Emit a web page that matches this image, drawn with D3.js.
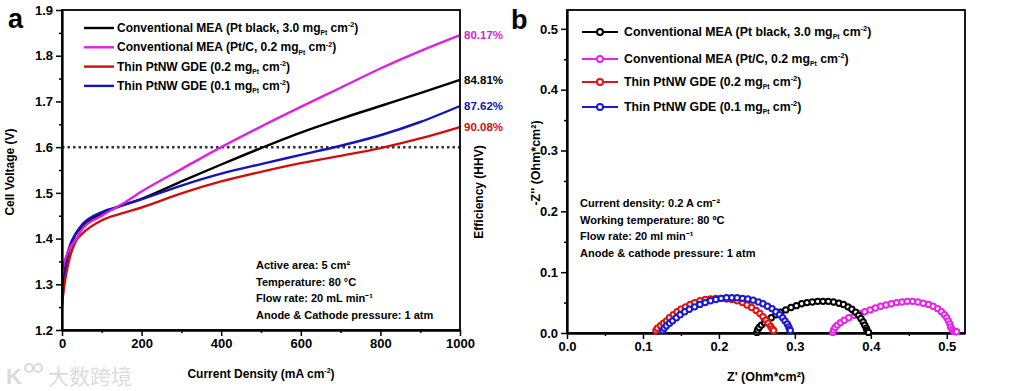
<!DOCTYPE html>
<html><head><meta charset="utf-8">
<script src="https://cdn.jsdelivr.net/npm/d3@7/dist/d3.min.js"></script>
<style>body{margin:0;background:#fff}svg{display:block;font-family:"Liberation Sans",Arial,sans-serif;font-weight:bold}</style>
</head><body><svg id="c" width="1012" height="391"></svg>
<script>
// ---------- Panel a data ----------
const currentDensity = [0, 10, 20, 35, 50, 100, 150, 200, 300, 400, 500, 600, 700, 800, 900, 1000];
const vPtBlack = [1.27, 1.34, 1.38, 1.41, 1.425, 1.455, 1.472, 1.487, 1.525, 1.562, 1.598, 1.632, 1.662, 1.69, 1.718, 1.747];
const vPtC     = [1.33, 1.36, 1.38, 1.398, 1.42, 1.45, 1.475, 1.503, 1.552, 1.600, 1.645, 1.688, 1.73, 1.772, 1.81, 1.845];
const vPtNW02  = [1.26, 1.32, 1.36, 1.395, 1.41, 1.44, 1.455, 1.468, 1.499, 1.525, 1.546, 1.565, 1.581, 1.598, 1.619, 1.644];
const vPtNW01  = [1.25, 1.35, 1.385, 1.412, 1.43, 1.458, 1.472, 1.486, 1.516, 1.542, 1.563, 1.583, 1.603, 1.626, 1.655, 1.69];
const efficiencyLabels = ["84.81%", "80.17%", "90.08%", "87.62%"];
const yTicksA = [1.2, 1.3, 1.4, 1.5, 1.6, 1.7, 1.8, 1.9];
const xTicksA = [0, 200, 400, 600, 800, 1000];
const thresholdV = 1.6;

// ---------- Panel b data (Z', -Z'') ----------
const eisPtBlack = [[0.250,0.001],[0.251,0.005],[0.253,0.009],[0.256,0.013],[0.260,0.017],[0.264,0.021],[0.269,0.025],[0.275,0.030],[0.281,0.034],[0.288,0.038],[0.295,0.042],[0.302,0.045],[0.309,0.048],[0.316,0.050],[0.323,0.051],[0.330,0.052],[0.337,0.052],[0.344,0.052],[0.351,0.051],[0.358,0.049],[0.364,0.047],[0.370,0.043],[0.375,0.039],[0.380,0.034],[0.384,0.029],[0.387,0.024],[0.390,0.018],[0.392,0.013],[0.394,0.008],[0.395,0.004],[0.396,0.002],[0.397,0.001]];
const eisPtC = [[0.350,0.001],[0.351,0.005],[0.353,0.009],[0.356,0.013],[0.360,0.017],[0.365,0.021],[0.371,0.025],[0.378,0.029],[0.385,0.032],[0.392,0.035],[0.399,0.038],[0.406,0.041],[0.413,0.044],[0.420,0.046],[0.427,0.048],[0.434,0.050],[0.441,0.051],[0.448,0.052],[0.455,0.052],[0.462,0.051],[0.469,0.049],[0.476,0.047],[0.482,0.044],[0.488,0.040],[0.493,0.035],[0.497,0.030],[0.500,0.025],[0.502,0.020],[0.504,0.015],[0.505,0.010],[0.507,0.006],[0.509,0.003],[0.511,0.002],[0.513,0.002]];
const eisPtNW02 = [[0.117,0.004],[0.119,0.008],[0.123,0.012],[0.127,0.016],[0.131,0.020],[0.135,0.025],[0.140,0.030],[0.145,0.035],[0.150,0.039],[0.156,0.043],[0.162,0.047],[0.168,0.050],[0.175,0.053],[0.182,0.055],[0.189,0.056],[0.196,0.057],[0.203,0.057],[0.210,0.056],[0.217,0.055],[0.224,0.053],[0.231,0.050],[0.237,0.046],[0.243,0.042],[0.249,0.037],[0.254,0.032],[0.258,0.027],[0.262,0.021],[0.265,0.016],[0.268,0.011],[0.270,0.007],[0.272,0.004]];
const eisPtNW01 = [[0.126,0.004],[0.128,0.008],[0.131,0.012],[0.135,0.016],[0.139,0.020],[0.144,0.025],[0.149,0.030],[0.155,0.035],[0.161,0.039],[0.168,0.043],[0.175,0.047],[0.182,0.050],[0.189,0.053],[0.196,0.055],[0.203,0.057],[0.210,0.058],[0.217,0.058],[0.224,0.058],[0.231,0.057],[0.238,0.056],[0.245,0.054],[0.252,0.051],[0.258,0.048],[0.264,0.044],[0.270,0.040],[0.275,0.035],[0.280,0.030],[0.284,0.025],[0.287,0.020],[0.290,0.015],[0.292,0.010],[0.293,0.006],[0.294,0.004]];
const yTicksB = [0.0, 0.1, 0.2, 0.3, 0.4, 0.5];
const xTicksB = [0.0, 0.1, 0.2, 0.3, 0.4, 0.5];

const legendA = [
  {pre:"Conventional MEA (Pt black, 3.0 mg", sub:"Pt", mid:" cm", sup:"-2", post:")"},
  {pre:"Conventional MEA (Pt/C, 0.2 mg", sub:"Pt", mid:" cm", sup:"-2", post:")"},
  {pre:"Thin PtNW GDE (0.2 mg", sub:"Pt", mid:" cm", sup:"-2", post:")"},
  {pre:"Thin PtNW GDE (0.1 mg", sub:"Pt", mid:" cm", sup:"-2", post:")"}
];
const colorsA = ["#000000", "#e020e0", "#cc1010", "#1414bb"];
const labelColors = ["#000000", "#d61ed6", "#cc1010", "#1414aa"];
const colorsB = ["#000000", "#e626e6", "#e01414", "#1a1ad0"];

const svg = d3.select("#c");
svg.append("rect").attr("width",1012).attr("height",391).attr("fill","#fff");

function richText(g, x, y, item, size, fill){
  const t = g.append("text").attr("x",x).attr("y",y).attr("font-size",size).attr("fill",fill||"#000");
  t.append("tspan").text(item.pre);
  t.append("tspan").attr("font-size",size*0.55).attr("dy",size*0.28).text(item.sub);
  t.append("tspan").attr("dy",-size*0.28).text(item.mid);
  t.append("tspan").attr("font-size",size*0.6).attr("dy",-size*0.38).text(item.sup);
  t.append("tspan").attr("dy",size*0.38).text(item.post);
  return t;
}

// ================= PANEL A =================
const xa = d3.scaleLinear().domain([0,1000]).range([62,460]);
const ya = d3.scaleLinear().domain([1.2,1.9]).range([330,10]);
const ga = svg.append("g");

ga.append("line").attr("x1",xa(0)).attr("x2",xa(1000)).attr("y1",ya(thresholdV)).attr("y2",ya(thresholdV))
  .attr("stroke","#333").attr("stroke-width",2.5).attr("stroke-dasharray","2.5,3");

const seriesA = [vPtBlack, vPtC, vPtNW02, vPtNW01];
const lineA = d3.line().x((d,i)=>xa(currentDensity[i])).y(d=>ya(d)).curve(d3.curveMonotoneX);
const drawOrder = [0,3,2,1];
drawOrder.forEach(k=>{
  ga.append("path").datum(seriesA[k]).attr("d",lineA).attr("fill","none")
    .attr("stroke",colorsA[k]).attr("stroke-width",2.4);
});

ga.append("g").attr("transform",`translate(${xa(0)},0)`)
  .call(d3.axisLeft(ya).tickValues(yTicksA).tickFormat(d3.format(".1f")).tickSize(6).tickSizeOuter(0).tickPadding(3));
ga.append("g").attr("transform",`translate(${xa(0)},0)`)
  .call(d3.axisLeft(ya).tickValues([1.25,1.35,1.45,1.55,1.65,1.75,1.85]).tickFormat("").tickSize(3).tickSizeOuter(0));
ga.append("g").attr("transform",`translate(0,${ya(1.2)})`)
  .call(d3.axisBottom(xa).tickValues(xTicksA).tickFormat(d3.format("d")).tickSize(6).tickSizeOuter(0).tickPadding(3));
ga.append("g").attr("transform",`translate(0,${ya(1.2)})`)
  .call(d3.axisBottom(xa).tickValues([100,300,500,700,900]).tickFormat("").tickSize(3).tickSizeOuter(0));
ga.append("rect").attr("x",xa(0)).attr("y",ya(1.9)).attr("width",xa(1000)-xa(0)).attr("height",ya(1.2)-ya(1.9))
  .attr("fill","none").attr("stroke","#000").attr("stroke-width",1.8);

legendA.forEach((it,i)=>{
  const y = 28 + i*19.3;
  ga.append("line").attr("x1",84).attr("x2",114).attr("y1",y).attr("y2",y).attr("stroke",colorsA[i]).attr("stroke-width",2.4);
  richText(ga, 117, y+4, it, 12);
});

const endVals = seriesA.map(s=>s[s.length-1]);
endVals.forEach((v,i)=>{
  ga.append("text").attr("x",464).attr("y",ya(v)+4).attr("font-size",11.5)
    .attr("fill",labelColors[i]).text(efficiencyLabels[i]);
});

["Active area: 5 cm\u00b2","Temperature: 80 \u00b0C","Flow rate: 20 mL min\u207b\u00b9","Anode & Cathode pressure: 1 atm"].forEach((s,i)=>{
  ga.append("text").attr("x",256).attr("y",269+i*16.7).attr("font-size",11).text(s);
});

ga.append("text").attr("transform","translate(14,172) rotate(-90)").attr("text-anchor","middle").attr("font-size",12).text("Cell Voltage (V)");
ga.append("text").attr("transform","translate(483,192) rotate(-90)").attr("text-anchor","middle").attr("font-size",12).text("Efficiency (HHV)");
const xt = ga.append("text").attr("x",261).attr("y",378).attr("text-anchor","middle").attr("font-size",12);
xt.append("tspan").text("Current Density (mA cm");
xt.append("tspan").attr("font-size",7).attr("dy",-5).text("-2");
xt.append("tspan").attr("dy",5).text(")");
ga.append("text").attr("x",8).attr("y",28).attr("font-size",27).text("a");

// ================= PANEL B =================
const xb = d3.scaleLinear().domain([0,0.524]).range([567,965]);
const yb = d3.scaleLinear().domain([0,0.531]).range([333,10]);
const gb = svg.append("g");

gb.append("g").attr("transform",`translate(${xb(0)},0)`)
  .call(d3.axisLeft(yb).tickValues(yTicksB).tickFormat(d3.format(".1f")).tickSize(6).tickSizeOuter(0).tickPadding(3));
gb.append("g").attr("transform",`translate(${xb(0)},0)`)
  .call(d3.axisLeft(yb).tickValues([0.05,0.15,0.25,0.35,0.45]).tickFormat("").tickSize(3).tickSizeOuter(0));
gb.append("g").attr("transform",`translate(0,${yb(0)})`)
  .call(d3.axisBottom(xb).tickValues(xTicksB).tickFormat(d3.format(".1f")).tickSize(6).tickSizeOuter(0).tickPadding(3));
gb.append("g").attr("transform",`translate(0,${yb(0)})`)
  .call(d3.axisBottom(xb).tickValues([0.05,0.15,0.25,0.35,0.45]).tickFormat("").tickSize(3).tickSizeOuter(0));
gb.append("rect").attr("x",xb(0)).attr("y",yb(0.531)).attr("width",xb(0.524)-xb(0)).attr("height",yb(0)-yb(0.531))
  .attr("fill","none").attr("stroke","#000").attr("stroke-width",1.8);

const seriesB = [eisPtBlack, eisPtC, eisPtNW02, eisPtNW01];
const orderB = [1,0,2,3];
orderB.forEach(k=>{
  gb.append("g").selectAll("circle").data(seriesB[k]).join("circle")
    .attr("cx",d=>xb(d[0])).attr("cy",d=>yb(d[1])).attr("r",2.7)
    .attr("fill","#fff").attr("stroke",colorsB[k]).attr("stroke-width",2);
});

const legendBY = [32, 59, 82, 107];
legendA.forEach((it,i)=>{
  const y = legendBY[i];
  gb.append("line").attr("x1",582).attr("x2",618).attr("y1",y).attr("y2",y).attr("stroke",colorsB[i]).attr("stroke-width",2);
  gb.append("circle").attr("cx",600).attr("cy",y).attr("r",3).attr("fill","#fff").attr("stroke",colorsB[i]).attr("stroke-width",2);
  richText(gb, 624, y+4, it, 12.3);
});

["Current density: 0.2 A cm\u207b\u00b2","Working temperature: 80 \u00baC","Flow rate: 20 ml min\u207b\u00b9","Anode & cathode pressure: 1 atm"].forEach((s,i)=>{
  gb.append("text").attr("x",580).attr("y",207+i*16.6).attr("font-size",11).text(s);
});

gb.append("text").attr("transform","translate(540,163) rotate(-90)").attr("text-anchor","middle").attr("font-size",12.5).text("-Z'' (Ohm*cm\u00b2)");
gb.append("text").attr("x",766).attr("y",381).attr("text-anchor","middle").attr("font-size",12.5).text("Z' (Ohm*cm\u00b2)");
gb.append("text").attr("x",511).attr("y",29).attr("font-size",27).text("b");

svg.selectAll(".tick text").attr("font-size",13).attr("font-weight","bold").attr("font-family","'Liberation Sans',Arial,sans-serif").attr("fill","#000");
svg.selectAll(".domain").attr("stroke-width",1.8);
svg.selectAll(".tick line").attr("stroke-width",1.5);

const wm = svg.append("g").attr("opacity",0.35);
wm.append("text").attr("x",6).attr("y",384).attr("font-size",22).attr("fill","#999").attr("font-family","'Liberation Sans',sans-serif").text("K");
wm.append("circle").attr("cx",29).attr("cy",368).attr("r",4).attr("fill","none").attr("stroke","#999").attr("stroke-width",2);
wm.append("circle").attr("cx",38).attr("cy",368).attr("r",4).attr("fill","none").attr("stroke","#999").attr("stroke-width",2);
wm.append("text").attr("x",48).attr("y",384).attr("font-size",21).attr("fill","#999").attr("font-family","'Noto Sans CJK SC',sans-serif").attr("font-weight","normal").text("大数跨境");
</script></body></html>
